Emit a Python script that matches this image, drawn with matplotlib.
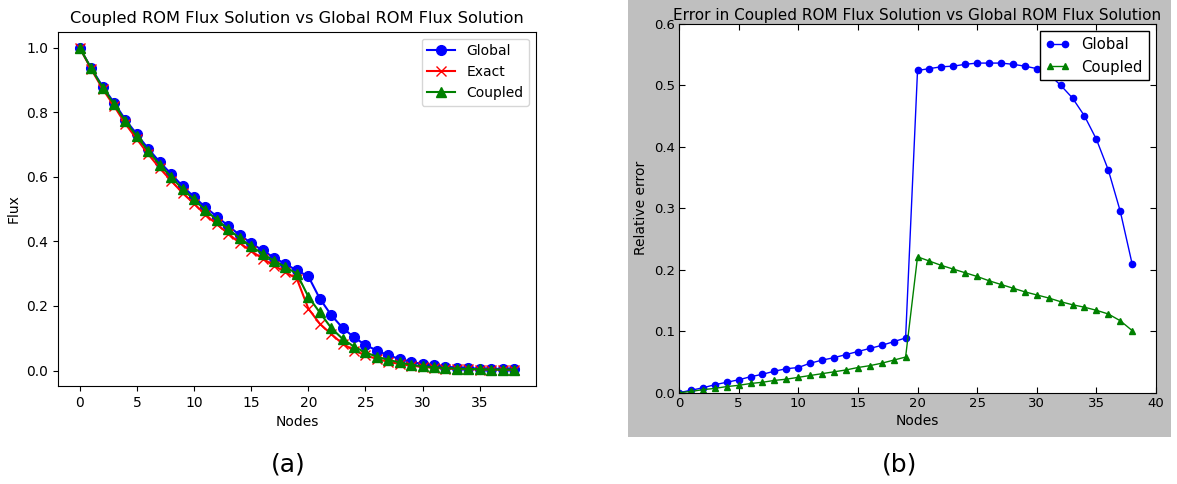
import numpy as np
import matplotlib
matplotlib.use('Agg')
import matplotlib.pyplot as plt
from matplotlib.patches import Rectangle

#data
nodes = np.arange(39)

#(a) flux
fluxGlobal = [1.0, 0.937, 0.88, 0.83, 0.777, 0.732, 0.687, 0.646, 0.609, 0.571,
              0.538, 0.506, 0.477, 0.448, 0.42, 0.395, 0.372, 0.35, 0.33, 0.31,
              0.292, 0.223, 0.172, 0.132, 0.103, 0.079, 0.062, 0.047, 0.036, 0.027,
              0.02, 0.016, 0.012, 0.009, 0.007, 0.006, 0.005, 0.005, 0.005]
fluxExact = [1.0, 0.934, 0.873, 0.82, 0.764, 0.717, 0.67, 0.627, 0.588, 0.55,
             0.517, 0.483, 0.453, 0.424, 0.395, 0.37, 0.347, 0.325, 0.305, 0.284,
             0.192, 0.145, 0.113, 0.083, 0.062, 0.047, 0.036, 0.027, 0.02, 0.015,
             0.011, 0.008, 0.006, 0.005, 0.004, 0.003, 0.003, 0.002, 0.002]
fluxCoupled = [1.0, 0.936, 0.877, 0.826, 0.772, 0.726, 0.68, 0.638, 0.6, 0.562,
               0.53, 0.497, 0.467, 0.438, 0.41, 0.385, 0.362, 0.34, 0.321, 0.30,
               0.229, 0.18, 0.132, 0.098, 0.074, 0.056, 0.043, 0.033, 0.025, 0.018,
               0.013, 0.01, 0.008, 0.006, 0.005, 0.004, 0.003, 0.003, 0.003]

#(b) relative error
errGlobal = [0.0, 0.004, 0.008, 0.013, 0.017, 0.021, 0.026, 0.030, 0.035, 0.039,
             0.041, 0.048, 0.053, 0.057, 0.062, 0.067, 0.072, 0.077, 0.083, 0.089,
             0.524, 0.527, 0.530, 0.531, 0.534, 0.536, 0.536, 0.536, 0.534, 0.531,
             0.527, 0.518, 0.500, 0.479, 0.450, 0.412, 0.362, 0.295, 0.209]
errCoupled = [0.0, 0.002, 0.005, 0.007, 0.010, 0.012, 0.015, 0.017, 0.020, 0.022,
              0.025, 0.028, 0.031, 0.034, 0.037, 0.041, 0.044, 0.048, 0.053, 0.058,
              0.221, 0.214, 0.207, 0.201, 0.195, 0.189, 0.182, 0.176, 0.170, 0.164,
              0.159, 0.154, 0.148, 0.143, 0.139, 0.134, 0.128, 0.117, 0.101]

fig = plt.figure(figsize=(11.77, 4.84), dpi=100)

#gray background behind panel (b)
fig.patches.append(Rectangle((0.5336, 0.098), 0.4613, 0.902, transform=fig.transFigure,
                             facecolor='#bfbfbf', edgecolor='none', zorder=-10))

#panel (a)
ax1 = fig.add_axes([0.0493, 0.2025, 0.4059, 0.732])
ax1.plot(nodes, fluxGlobal, 'b', marker='o', ms=7, label='Global')
ax1.plot(nodes, fluxExact, 'r', marker='x', ms=7, label='Exact')
ax1.plot(nodes, fluxCoupled, 'g', marker='^', ms=7, label='Coupled')
ax1.set_title('Coupled ROM Flux Solution vs Global ROM Flux Solution', fontsize=11.7)
ax1.set_xlabel('Nodes')
ax1.set_ylabel('Flux')
ax1.set_xticks(np.arange(0, 36, 5))
ax1.set_yticks(np.arange(0, 1.01, 0.2))
ax1.legend(loc='upper right')

#panel (b), classic look
ax2 = fig.add_axes([0.5769, 0.1886, 0.4053, 0.7624])
ax2.plot(nodes, errGlobal, color='b', marker='o', markersize=4.5, lw=1, label='Global')
ax2.plot(nodes, errCoupled, color=(0, 0.5, 0), marker='^', markersize=4.5, lw=1, label='Coupled')
ax2.set_xlim(0, 40)
ax2.set_ylim(0, 0.6)
ax2.set_xticks(np.arange(0, 41, 5))
ax2.set_yticks(np.arange(0, 0.61, 0.1))
ax2.tick_params(direction='in', top=True, right=True, length=4, labelsize=9.5, pad=3)
ax2.set_title('Error in Coupled ROM Flux Solution vs Global ROM Flux Solution', fontsize=11, pad=3)
ax2.set_xlabel('Nodes', labelpad=3)
ax2.set_ylabel('Relative error')
leg = ax2.legend(loc='upper right', numpoints=2, fontsize=10.7, fancybox=False,
                 borderaxespad=0.5, handlelength=1.6)
leg.get_frame().set_edgecolor('black')
leg.get_frame().set_alpha(1)

fig.text(0.245, 0.025, '(a)', fontsize=18, ha='center')
fig.text(0.764, 0.025, '(b)', fontsize=18, ha='center')

fig.savefig('out.png', dpi=100)
